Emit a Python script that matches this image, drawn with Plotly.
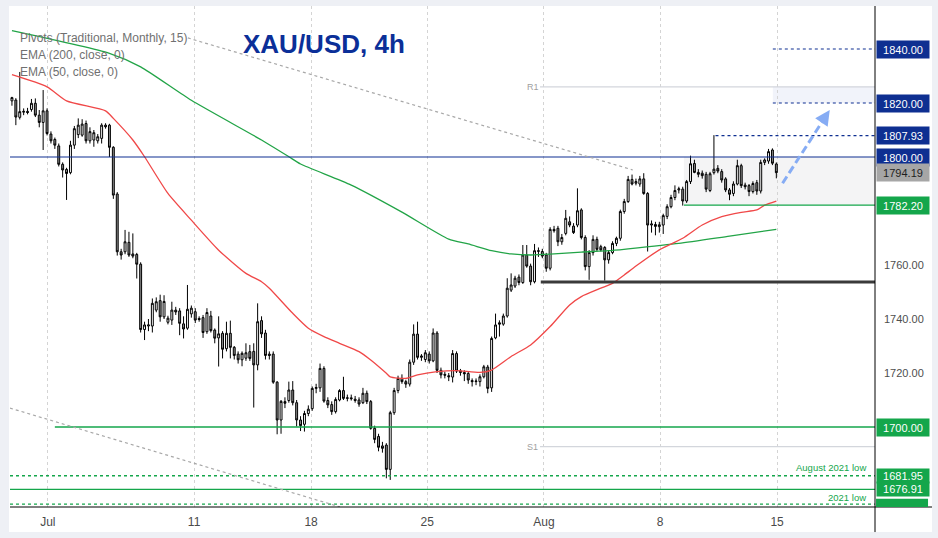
import plotly.graph_objects as go

# XAU/USD 4h candles, bar 0 = first visible bar (end of June), last bar = first bar of 15 Aug
open_ = [1820.8, 1821.1, 1814.7, 1816.6, 1816.9, 1817.6, 1819.9, 1815.5, 1812.8, 1817.1,
         1808.5, 1806.5, 1804.1, 1797.3, 1795.4, 1794.2, 1804.4, 1808.3, 1808.1, 1812.4,
         1806.0, 1806.3, 1806.0, 1806.9, 1811.8, 1811.8, 1803.6, 1786.3, 1764.9, 1764.9,
         1768.4, 1764.1, 1763.9, 1760.3, 1736.1, 1737.4, 1737.4, 1743.3, 1746.8, 1740.8,
         1738.8, 1739.6, 1743.3, 1743.0, 1738.2, 1736.6, 1741.9, 1742.7, 1740.2, 1740.5,
         1735.3, 1741.1, 1735.9, 1733.0, 1734.7, 1729.0, 1734.7, 1729.5, 1727.0, 1724.9,
         1725.5, 1727.9, 1728.0, 1723.0, 1739.4, 1734.8, 1727.0, 1727.0, 1716.6, 1702.6,
         1709.4, 1709.8, 1713.7, 1709.0, 1702.6, 1701.0, 1705.0, 1706.8, 1714.3, 1714.5,
         1721.7, 1709.8, 1708.3, 1705.7, 1710.0, 1713.5, 1710.6, 1710.8, 1710.3, 1710.0,
         1709.0, 1712.5, 1709.4, 1699.5, 1696.5, 1693.0, 1693.3, 1684.3, 1705.3, 1713.5,
         1718.0, 1716.8, 1715.9, 1724.0, 1734.4, 1725.8, 1725.0, 1727.0, 1724.5, 1734.8,
         1721.0, 1719.5, 1719.0, 1718.5, 1727.2, 1720.8, 1720.2, 1719.8, 1717.2, 1716.8,
         1716.8, 1718.6, 1722.2, 1714.5, 1733.0, 1738.6, 1738.1, 1741.1, 1750.7, 1752.2,
         1755.5, 1753.5, 1763.7, 1759.6, 1753.8, 1765.3, 1765.0, 1763.7, 1758.8, 1773.2,
         1773.6, 1768.6, 1771.7, 1776.0, 1774.4, 1774.8, 1780.4, 1770.2, 1759.4, 1764.6,
         1769.5, 1766.8, 1766.5, 1761.9, 1764.6, 1768.0, 1769.9, 1779.8, 1783.5, 1791.7,
         1790.3, 1790.0, 1791.9, 1786.5, 1774.8, 1775.0, 1774.2, 1774.8, 1778.0, 1781.6,
         1785.0, 1787.8, 1788.1, 1783.7, 1790.9, 1797.6, 1794.3, 1794.0, 1793.6, 1787.6,
         1794.2, 1795.8, 1794.6, 1791.9, 1787.8, 1786.5, 1790.0, 1796.8, 1789.6, 1789.4,
         1787.2, 1790.5, 1787.4, 1798.0, 1798.5, 1802.6, 1797.4]
high = [1822.3, 1821.8, 1831.5, 1818.0, 1818.2, 1821.5, 1821.7, 1817.4, 1824.8, 1818.0,
        1809.5, 1807.2, 1805.0, 1798.0, 1796.0, 1806.0, 1811.5, 1814.3, 1814.0, 1813.5,
        1811.0, 1810.0, 1808.5, 1812.5, 1812.5, 1812.3, 1804.0, 1787.0, 1766.0, 1773.0,
        1772.3, 1771.7, 1764.5, 1761.0, 1739.0, 1740.0, 1747.6, 1748.0, 1749.0, 1748.8,
        1741.2, 1746.4, 1744.5, 1744.0, 1741.0, 1752.6, 1745.0, 1744.0, 1741.0, 1741.5,
        1744.0, 1743.0, 1736.5, 1741.0, 1735.5, 1739.0, 1739.4, 1730.0, 1728.0, 1728.0,
        1731.0, 1730.4, 1731.0, 1745.8, 1741.0, 1736.0, 1728.0, 1728.0, 1717.0, 1710.0,
        1711.0, 1716.8, 1717.0, 1710.0, 1704.0, 1706.0, 1708.0, 1715.0, 1716.0, 1723.5,
        1722.5, 1711.0, 1709.5, 1711.0, 1714.0, 1718.6, 1712.0, 1712.0, 1711.5, 1711.0,
        1714.5, 1713.5, 1710.0, 1700.5, 1697.5, 1694.5, 1694.0, 1706.0, 1714.5, 1719.0,
        1719.5, 1717.5, 1725.0, 1738.0, 1739.0, 1727.0, 1728.5, 1728.0, 1736.5, 1735.5,
        1722.0, 1720.5, 1720.0, 1728.5, 1728.0, 1721.5, 1721.0, 1720.5, 1718.0, 1718.0,
        1719.5, 1723.0, 1723.0, 1733.5, 1742.0, 1739.5, 1742.0, 1755.1, 1756.9, 1756.0,
        1756.5, 1767.4, 1767.4, 1760.5, 1767.8, 1766.5, 1766.0, 1764.5, 1774.0, 1774.5,
        1774.5, 1771.5, 1780.4, 1778.0, 1775.5, 1788.4, 1781.0, 1771.0, 1765.5, 1771.0,
        1770.5, 1767.5, 1767.0, 1765.5, 1768.8, 1770.5, 1780.5, 1784.5, 1793.0, 1793.5,
        1792.0, 1793.0, 1794.0, 1787.0, 1776.5, 1776.0, 1776.0, 1779.0, 1782.5, 1786.0,
        1789.5, 1789.0, 1789.0, 1791.5, 1800.5, 1799.0, 1795.5, 1795.0, 1794.5, 1794.5,
        1808.1, 1797.0, 1795.5, 1792.5, 1788.5, 1791.0, 1799.0, 1797.5, 1790.5, 1790.0,
        1791.0, 1791.5, 1799.0, 1799.5, 1803.0, 1803.2, 1798.0]
low = [1819.0, 1811.8, 1813.9, 1815.5, 1815.8, 1816.8, 1814.8, 1811.0, 1802.6, 1808.0,
       1805.0, 1803.0, 1796.5, 1792.4, 1784.1, 1793.6, 1803.0, 1807.0, 1807.5, 1805.0,
       1805.0, 1803.8, 1805.0, 1805.0, 1810.5, 1800.0, 1784.5, 1763.5, 1762.0, 1764.0,
       1763.0, 1762.5, 1755.0, 1735.0, 1732.2, 1735.5, 1735.0, 1742.5, 1739.0, 1740.0,
       1738.0, 1737.8, 1741.5, 1734.0, 1732.8, 1736.0, 1740.5, 1738.5, 1739.0, 1733.0,
       1734.5, 1735.0, 1731.0, 1722.4, 1725.4, 1728.0, 1725.4, 1725.0, 1723.5, 1722.5,
       1724.5, 1724.5, 1707.2, 1721.0, 1733.0, 1725.0, 1725.0, 1716.0, 1697.3, 1697.5,
       1707.0, 1709.0, 1708.0, 1700.2, 1698.5, 1698.3, 1704.0, 1706.0, 1712.5, 1713.0,
       1709.0, 1707.0, 1704.5, 1705.0, 1709.5, 1710.0, 1709.5, 1709.8, 1709.0, 1707.5,
       1708.5, 1708.5, 1699.0, 1694.0, 1691.0, 1690.5, 1681.0, 1680.4, 1704.5, 1712.5,
       1716.0, 1714.5, 1715.0, 1723.0, 1725.0, 1724.5, 1724.0, 1723.5, 1724.0, 1720.0,
       1718.0, 1718.0, 1717.0, 1716.5, 1720.0, 1719.0, 1717.0, 1716.0, 1715.0, 1715.5,
       1715.0, 1718.0, 1712.5, 1713.0, 1732.5, 1733.5, 1737.5, 1740.5, 1750.0, 1751.5,
       1752.5, 1753.0, 1759.0, 1752.5, 1753.2, 1763.0, 1762.5, 1757.5, 1758.0, 1772.0,
       1767.0, 1767.5, 1771.0, 1774.0, 1771.5, 1774.0, 1769.5, 1758.0, 1754.5, 1763.5,
       1765.0, 1765.0, 1754.2, 1760.5, 1764.0, 1767.0, 1769.0, 1779.0, 1783.0, 1789.5,
       1789.5, 1789.0, 1786.0, 1765.0, 1772.0, 1771.0, 1772.0, 1771.5, 1777.0, 1781.0,
       1784.0, 1786.5, 1782.0, 1783.0, 1790.0, 1794.0, 1792.5, 1792.0, 1787.0, 1787.0,
       1793.5, 1794.0, 1790.5, 1787.0, 1784.0, 1785.5, 1789.5, 1788.5, 1788.0, 1785.5,
       1786.5, 1786.0, 1786.5, 1797.0, 1797.5, 1797.0, 1792.1]
close = [1822.0, 1814.8, 1816.8, 1816.9, 1816.5, 1819.9, 1815.5, 1812.8, 1817.1, 1808.7,
         1806.0, 1804.4, 1797.3, 1795.2, 1793.9, 1804.4, 1810.5, 1811.8, 1812.2, 1806.0,
         1809.4, 1809.0, 1807.5, 1811.8, 1811.2, 1803.6, 1785.9, 1764.9, 1763.7, 1768.6,
         1763.7, 1763.3, 1760.3, 1736.1, 1737.8, 1737.8, 1745.8, 1746.4, 1740.8, 1746.5,
         1740.3, 1743.3, 1742.6, 1738.4, 1736.3, 1743.6, 1744.0, 1739.6, 1739.8, 1735.0,
         1742.4, 1735.7, 1732.9, 1734.5, 1728.8, 1734.7, 1729.5, 1726.5, 1724.9, 1727.3,
         1727.5, 1725.4, 1723.0, 1739.0, 1734.5, 1726.5, 1726.5, 1716.6, 1702.6, 1709.5,
         1708.8, 1713.7, 1709.0, 1702.6, 1700.5, 1705.0, 1706.6, 1714.3, 1714.6, 1721.7,
         1709.6, 1708.2, 1705.7, 1710.2, 1713.5, 1710.6, 1710.8, 1710.5, 1709.8, 1708.5,
         1712.5, 1709.4, 1699.5, 1695.4, 1692.5, 1692.1, 1684.3, 1705.3, 1713.5, 1718.0,
         1716.8, 1715.9, 1724.0, 1734.4, 1725.8, 1726.3, 1727.5, 1724.5, 1734.8, 1721.0,
         1719.3, 1719.2, 1718.6, 1727.2, 1720.7, 1720.2, 1719.7, 1717.4, 1716.8, 1717.0,
         1718.6, 1722.3, 1714.3, 1732.8, 1737.8, 1738.1, 1741.1, 1751.4, 1752.6, 1755.1,
         1753.5, 1763.7, 1759.6, 1753.8, 1765.3, 1765.1, 1763.3, 1758.8, 1773.2, 1772.7,
         1768.6, 1770.2, 1777.3, 1774.8, 1772.0, 1780.1, 1770.2, 1759.4, 1764.6, 1769.5,
         1765.8, 1765.6, 1761.9, 1764.6, 1768.0, 1769.9, 1779.8, 1783.5, 1791.7, 1790.0,
         1790.9, 1791.9, 1786.5, 1774.8, 1775.2, 1774.3, 1774.9, 1778.3, 1781.6, 1785.0,
         1787.6, 1788.2, 1783.7, 1790.9, 1797.5, 1794.3, 1793.6, 1793.1, 1788.1, 1793.8,
         1795.5, 1794.8, 1791.5, 1787.8, 1786.2, 1790.0, 1796.8, 1789.4, 1789.0, 1787.2,
         1790.2, 1787.4, 1798.0, 1798.9, 1802.0, 1797.7, 1794.19]

# date ticks (bar index of first bar of the day)
tick_pos = [9.2, 46.7, 76.7, 106.5, 136.4, 166.2, 196.2]
tick_text = ['Jul', '11', '18', '25', 'Aug', '8', '15']

# moving averages
ema50_x = [0, 9, 14, 24, 26, 31, 34, 40, 46, 53, 60, 64, 66, 72, 76, 80, 84, 89, 92, 96,
           97, 101, 104, 109, 114, 120, 123, 128, 133, 138, 143, 146, 151, 154, 157, 160,
           166, 172, 177, 182, 187, 191, 193, 196]
ema50_y = [1830.5, 1826.0, 1820.8, 1817.1, 1814.3, 1806.3, 1800.1, 1786.5, 1776.6, 1765.5,
           1756.9, 1753.8, 1751.4, 1742.1, 1736.6, 1733.5, 1731.0, 1727.9, 1724.8, 1719.9,
           1718.6, 1718.0, 1719.3, 1720.5, 1720.9, 1720.2, 1721.1, 1726.1, 1730.4, 1737.2,
           1745.2, 1748.3, 1751.4, 1753.2, 1756.3, 1759.6, 1765.6, 1769.9, 1774.8, 1777.9,
           1779.5, 1780.4, 1782.2, 1783.7]
ema200_x = [0, 25, 33, 46, 64, 71, 74, 87, 100, 112, 117, 123, 128, 133, 138, 146, 153, 158,
            171, 184, 196]
ema200_y = [1846.8, 1838.4, 1833.4, 1821.0, 1806.3, 1800.1, 1797.4, 1789.6, 1779.6, 1769.6,
            1767.8, 1765.3, 1764.1, 1763.7, 1764.0, 1764.8, 1765.3, 1766.0, 1768.0, 1770.7,
            1773.2]

# horizontal levels
target_levels = [1840.00, 1820.00, 1807.93, 1800.00]
last_price = 1794.19
support_level = 1782.20
green_levels = [1700.00, 1681.95, 1676.91]
pivot_r1 = 1826.0
pivot_s1 = 1692.7
range_low = 1753.7
low_2021 = 1671.40

# trendlines (bar index, price)
upper_trend = ([45.1, 159.2], [1844.1, 1795.2])
lower_trend = ([-0.5, 84.1], [1707.0, 1670.4])
arrow_start = (197.6, 1790.3)
arrow_end = (209.7, 1817.4)

NAVY = '#0e2f91'
GREEN = '#14a64b'
X_MIN, X_MAX = -0.5, 221.3
Y_MIN, Y_MAX = 1670.37, 1855.93
FONT = 'Liberation Sans, Arial, sans-serif'

fig = go.Figure()

fig.add_trace(go.Scatter(x=ema200_x, y=ema200_y, mode='lines',
                         line=dict(color='#22a447', width=1.3, shape='spline', smoothing=0.6),
                         hoverinfo='skip'))
fig.add_trace(go.Scatter(x=ema50_x, y=ema50_y, mode='lines',
                         line=dict(color='#f04848', width=1.3, shape='spline', smoothing=0.6),
                         hoverinfo='skip'))

fig.add_trace(go.Candlestick(
    x=list(range(len(close))),
    open=open_, high=high, low=low, close=close,
    increasing=dict(fillcolor='white', line=dict(color='black', width=1)),
    decreasing=dict(fillcolor='#8c8c8c', line=dict(color='black', width=1)),
    whiskerwidth=0,
))

shapes = []


def hline(y, x0, color, width=1.0, dash='solid'):
    shapes.append(dict(type='line', xref='x', yref='y', x0=x0, x1=X_MAX + 5, y0=y, y1=y,
                       line=dict(color=color, width=width, dash=dash)))


# frame
shapes.append(dict(type='rect', xref='paper', yref='paper', x0=-0.0012, x1=1.0659,
                   y0=-0.05, y1=1.0, fillcolor='white', line=dict(width=0), layer='below'))
# shaded boxes
shapes.append(dict(type='rect', xref='x', yref='y', x0=172.3, x1=X_MAX + 5,
                   y0=support_level, y1=1800.0, fillcolor='#f4f4f5', line=dict(width=0),
                   layer='below'))
shapes.append(dict(type='rect', xref='x', yref='y', x0=195.1, x1=X_MAX + 5,
                   y0=1820.0, y1=pivot_r1, fillcolor='#f1f3fa', line=dict(width=0),
                   layer='below'))

hline(pivot_r1, 135.4, '#d3d6dc', 1.2)
hline(pivot_s1, 135.4, '#d3d6dc', 1.2)
hline(1840.00, 195.1, NAVY, 1.2, 'dot')
hline(1820.00, 195.1, NAVY, 1.2, 'dot')
hline(1807.93, 180.4, NAVY, 1.2, 'dot')
hline(1800.00, X_MIN, NAVY, 1.2)
hline(support_level, 172.3, GREEN, 1.3)
hline(range_low, 135.6, '#3a3a3a', 3)
hline(1700.00, 11.0, GREEN, 1.3)
hline(1681.95, X_MIN, GREEN, 1.3, 'dot')
hline(1676.91, X_MIN, GREEN, 1.3)
hline(low_2021, X_MIN, GREEN, 1.3, 'dot')

for tx, ty in (upper_trend, lower_trend):
    shapes.append(dict(type='line', xref='x', yref='y', x0=tx[0], x1=tx[1], y0=ty[0], y1=ty[1],
                       line=dict(color='#a8a8a8', width=1.2, dash='dot')))

# dashed projection arrow body
shapes.append(dict(type='line', xref='x', yref='y', x0=arrow_start[0], y0=arrow_start[1],
                   x1=arrow_end[0] - 0.9, y1=arrow_end[1] - 2.0,
                   line=dict(color='#86acf4', width=3, dash='8px,4px')))

# axis borders
shapes.append(dict(type='line', xref='paper', yref='paper', x0=1, x1=1, y0=-0.05, y1=1,
                   line=dict(color='black', width=1)))
shapes.append(dict(type='line', xref='paper', yref='paper', x0=0, x1=1.0659, y0=0, y1=0,
                   line=dict(color='black', width=1)))
# top of the cut-off 1671.40 price label
shapes.append(dict(type='rect', xref='paper', yref='y', x0=1.0012, x1=1.0613,
                   y0=Y_MIN, y1=low_2021 + 2.0, fillcolor=GREEN, line=dict(width=0)))

annotations = []


def price_label(y, text, bg, fg='white', h=15):
    annotations.append(dict(x=1, xref='paper', y=y, yref='y', xanchor='left', yanchor='middle',
                            xshift=1, text=text, showarrow=False, bgcolor=bg, width=50,
                            height=h, borderpad=1, font=dict(family=FONT, size=11, color=fg)))


for lv in target_levels:
    price_label(lv, f'{lv:.2f}', NAVY)
price_label(last_price, f'{last_price:.2f}', '#a6a6a6', '#1e1e1e')
price_label(support_level, f'{support_level:.2f}', GREEN)
price_label(green_levels[0], f'{green_levels[0]:.2f}', GREEN)
price_label(green_levels[1], f'{green_levels[1]:.2f}', GREEN, h=12)
price_label(green_levels[2], f'{green_levels[2]:.2f}', GREEN, h=12)

# arrow head
annotations.append(dict(x=arrow_end[0], y=arrow_end[1], xref='x', yref='y', ax=-6, ay=9,
                        showarrow=True, arrowhead=2, arrowsize=1, arrowwidth=3,
                        arrowcolor='#86acf4', text=''))

# title and indicator legend
annotations.append(dict(x=0.363, y=0.958, xref='paper', yref='paper', showarrow=False,
                        text='<b>XAU/USD, 4h</b>',
                        font=dict(family=FONT, size=26, color='#0b2f98')))
for k, txt in enumerate(['Pivots (Traditional, Monthly, 15)', 'EMA (200, close, 0)',
                         'EMA (50, close, 0)']):
    annotations.append(dict(x=0.0093, y=(507 - 38.3 - 16.7 * k) / 501, xref='paper',
                            yref='paper', xanchor='left', yanchor='middle', showarrow=False,
                            text=txt, font=dict(family=FONT, size=12, color='#707070')))

annotations.append(dict(x=133.6, y=pivot_r1, xref='x', yref='y', showarrow=False, text='R1',
                        font=dict(family=FONT, size=9, color='#a0a0a0')))
annotations.append(dict(x=133.6, y=pivot_s1, xref='x', yref='y', showarrow=False, text='S1',
                        font=dict(family=FONT, size=9, color='#a0a0a0')))
annotations.append(dict(x=1, xref='paper', y=1681.95, yref='y', xanchor='right',
                        yanchor='bottom', xshift=-7, yshift=1, showarrow=False,
                        text='August 2021 low',
                        font=dict(family=FONT, size=9.5, color=GREEN)))
annotations.append(dict(x=1, xref='paper', y=1676.91, yref='y', xanchor='right',
                        yanchor='top', xshift=-7, yshift=-1, showarrow=False, text='2021 low',
                        font=dict(family=FONT, size=9.5, color=GREEN)))

fig.update_layout(
    width=938, height=538,
    margin=dict(l=10, r=63, t=6, b=31),
    paper_bgcolor='#eef0f5',
    plot_bgcolor='white',
    showlegend=False,
    shapes=shapes,
    annotations=annotations,
    xaxis=dict(range=[X_MIN, X_MAX], tickvals=tick_pos, ticktext=tick_text,
               showgrid=True, gridcolor='#d4d4d4', griddash='dot', zeroline=False,
               showline=False, ticks='', ticklabelstandoff=6, automargin=False,
               tickfont=dict(family=FONT, size=12, color='#4a4a4a'),
               rangeslider=dict(visible=False)),
    yaxis=dict(side='right', range=[Y_MIN, Y_MAX], tickvals=[1720, 1740, 1760],
               ticktext=['1720.00', '1740.00', '1760.00'], showgrid=False, zeroline=False,
               showline=False, ticks='', ticklabelstandoff=8, automargin=False,
               tickfont=dict(family=FONT, size=11, color='#4e4e4e')),
)

# drop the page's default body margin so the figure sits at the window origin
fig.write_html('out.html', config={'displayModeBar': False},
               post_script="document.body.style.margin='0';"
                           "document.body.style.overflow='hidden';")
